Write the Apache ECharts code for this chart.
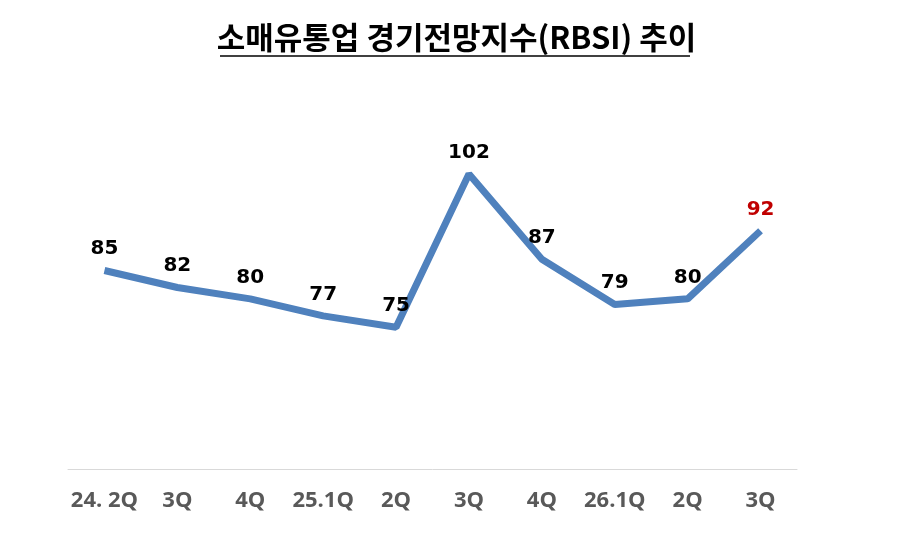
<!DOCTYPE html>
<html>
<head>
<meta charset="utf-8">
<script src="https://cdn.jsdelivr.net/npm/echarts@6/dist/echarts.min.js"></script>
<style>html,body{margin:0;padding:0;background:#fff;}#c{width:913px;height:554px;}</style>
</head>
<body>
<div id="c"></div>
<script>
var titleText = '소매유통업 경기전망지수(RBSI) 추이';
var categories = ['24. 2Q', '3Q', '4Q', '25.1Q', '2Q', '3Q', '4Q', '26.1Q', '2Q', '3Q'];
var values = [85, 82, 80, 77, 75, 102, 87, 79, 80, 92];
var highlightIndex = 9;

var chart = echarts.init(document.getElementById('c'));
var data = values.map(function (v, i) {
  var d = { value: v };
  if (i === highlightIndex) d.label = { color: '#C00000' };
  return d;
});
chart.setOption({
  animation: false,
  backgroundColor: '#fff',
  title: {
    text: titleText,
    left: 'center',
    top: 17,
    textStyle: { fontFamily: 'Noto Sans CJK KR', fontSize: 31, fontWeight: 'bold', color: '#000' }
  },
  graphic: [{
    type: 'line',
    shape: { x1: 220, y1: 56, x2: 690, y2: 56 },
    style: { stroke: '#000', lineWidth: 1.5 }
  }],
  grid: { left: 68, right: 116, top: 72, bottom: 85 },
  xAxis: {
    type: 'category',
    data: categories,
    boundaryGap: true,
    axisLine: { lineStyle: { color: '#d9d9d9', width: 1 } },
    axisTick: { show: false },
    axisLabel: { interval: 0, color: '#595959', fontFamily: 'Open Sans', fontWeight: 'bold', fontSize: 22, margin: 21 }
  },
  yAxis: {
    type: 'value',
    min: 50,
    max: 120,
    show: false,
    splitLine: { show: false }
  },
  series: [{
    type: 'line',
    data: data,
    symbol: 'circle',
    symbolSize: 1,
    showSymbol: true,
    itemStyle: { color: 'rgba(0,0,0,0)' },
    lineStyle: { color: '#4F81BD', width: 7 },
    label: {
      show: true,
      position: 'top',
      distance: 11,
      color: '#000',
      fontFamily: 'DejaVu Sans',
      fontWeight: 'bold',
      fontSize: 20
    }
  }]
});
</script>
</body>
</html>
